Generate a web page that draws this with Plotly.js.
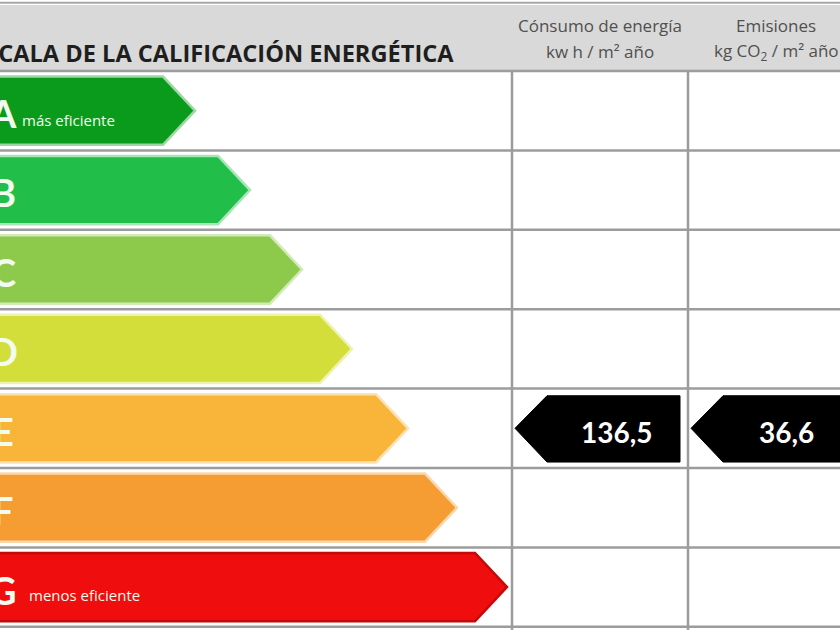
<!DOCTYPE html>
<html><head><meta charset="utf-8">
<script src="https://cdn.plot.ly/plotly-3.0.1.min.js"></script>
<style>html,body{margin:0;padding:0;background:#fff;overflow:hidden}#chart{width:840px;height:630px}</style>
</head><body><div id="chart"></div>
<script>
// ---- data ----
const classes = ['A','B','C','D','E','F','G'];
const classNotes = ['más eficiente','','','','','','menos eficiente'];
const barEnds = [195, 250, 302, 352, 408, 457, 507];
const barColors = ['#0b9b1c','#22be4a','#8dca4b','#d3de3b','#f9b43a','#f59c33','#ef0d0d'];
const titleText = 'ESCALA DE LA CALIFICACIÓN ENERGÉTICA';
const columnHeaders = ['Cónsumo de energía', 'Emisiones'];
const columnUnits = ['kw h / m² año', 'kg CO<sub>2</sub> / m² año'];
const ratedClass = 'E';
const ratedValues = ['136,5', '36,6'];

// ---- layout geometry (not data) ----
const tipLen = 32;
const barTop = 0.07, barBot = 0.93;
const colLines = [512, 688];
const colCenters = [600, 776];
const markTips = [515, 691];
const markEnds = [680, 870];
const valueCenters = [617, 786];
const headerTop = -0.831;
const txtFont = 'Open Sans, Lato, sans-serif';

function tint(hex, f){
  const n = parseInt(hex.slice(1),16);
  const r=(n>>16)&255,g=(n>>8)&255,b=n&255;
  const m=c=>Math.round(c+(255-c)*f);
  return 'rgb('+m(r)+','+m(g)+','+m(b)+')';
}

const traces = [];
classes.forEach((c,i)=>{
  const e = barEnds[i];
  traces.push({
    type:'scatter', mode:'lines', fill:'toself',
    x:[-10, e-tipLen, e, e-tipLen, -10, -10],
    y:[i+barTop, i+barTop, i+0.5, i+barBot, i+barBot, i+barTop],
    fillcolor: barColors[i],
    line:{color: c==='G' ? '#c40a0a' : tint(barColors[i],0.6), width: 2.5},
    hoverinfo:'skip'
  });
});

const r = classes.indexOf(ratedClass);
ratedValues.forEach((v,k)=>{
  const t = markTips[k], e = markEnds[k];
  traces.push({
    type:'scatter', mode:'lines', fill:'toself',
    x:[t, t+tipLen, e, e, t+tipLen, t],
    y:[r+0.5, r+0.09, r+0.09, r+0.925, r+0.925, r+0.5],
    fillcolor:'#000', line:{color:'#000', width:1}, hoverinfo:'skip'
  });
});

const annotations = [];
annotations.push({xref:'x', yref:'y', x:456, y:-0.227, xanchor:'right', yanchor:'middle',
  text:'<b>'+titleText+'</b>', showarrow:false,
  font:{family:'Open Sans, sans-serif', size:23.6, color:'#1e1e1e'}});
columnHeaders.forEach((h,k)=>{
  annotations.push({xref:'x', yref:'y', x:colCenters[k], y:-0.57, xanchor:'center', yanchor:'middle',
    text:h, showarrow:false, font:{family:txtFont, size:17, color:'#505050'}});
  annotations.push({xref:'x', yref:'y', x:colCenters[k], y:-0.24, xanchor:'center', yanchor:'middle',
    text:columnUnits[k], showarrow:false, font:{family:txtFont, size:17, color:'#505050'}});
});
classes.forEach((c,i)=>{
  annotations.push({xref:'x', yref:'y', x:3, y:i+0.53, xanchor:'center', yanchor:'middle',
    text:'<b>'+c+'</b>', showarrow:false, font:{family:'Lato, Open Sans, sans-serif', size:38, color:'#f2fbf0'}});
  if(classNotes[i]){
    annotations.push({xref:'x', yref:'y', x: i===0 ? 20 : 27, y: i+(i===0?0.62:0.6), xanchor:'left', yanchor:'middle',
      text:classNotes[i], showarrow:false, font:{family:txtFont, size:15, color:'#f2fbf0'}});
  }
});
ratedValues.forEach((v,k)=>{
  annotations.push({xref:'x', yref:'y', x:valueCenters[k], y:r+0.55, xanchor:'center', yanchor:'middle',
    text:'<b>'+v+'</b>', showarrow:false, font:{family:'Lato, Open Sans, sans-serif', size:28, color:'#ffffff'}});
});

const shapes = [];
shapes.push({type:'rect', xref:'x', yref:'y', x0:-5, x1:850, y0:headerTop, y1:0, fillcolor:'#d9d9d9', line:{width:0}, layer:'below'});
shapes.push({type:'line', xref:'x', yref:'y', x0:-5, x1:850, y0:-0.86, y1:-0.86, line:{color:'#a8a8a8', width:2}, layer:'below'});
for(let i=0;i<=classes.length;i++){
  shapes.push({type:'line', xref:'x', yref:'y', x0:-5, x1:850, y0:i, y1:i, line:{color:'#9c9c9c', width:2.5}, layer:'below'});
}
colLines.forEach(x=>{
  shapes.push({type:'line', xref:'x', yref:'y', x0:x, x1:x, y0:0, y1:7.1, line:{color:'#9c9c9c', width:2.5}, layer:'below'});
});

const layout = {
  width:840, height:630,
  margin:{l:0,r:0,t:0,b:0,pad:0},
  paper_bgcolor:'#ffffff', plot_bgcolor:'#ffffff',
  showlegend:false, hovermode:false,
  xaxis:{range:[0,840], visible:false, fixedrange:true},
  yaxis:{range:[7.04,-0.894], visible:false, fixedrange:true},
  shapes:shapes, annotations:annotations
};
Plotly.newPlot('chart', traces, layout, {staticPlot:true, displayModeBar:false});
</script>
</body></html>
